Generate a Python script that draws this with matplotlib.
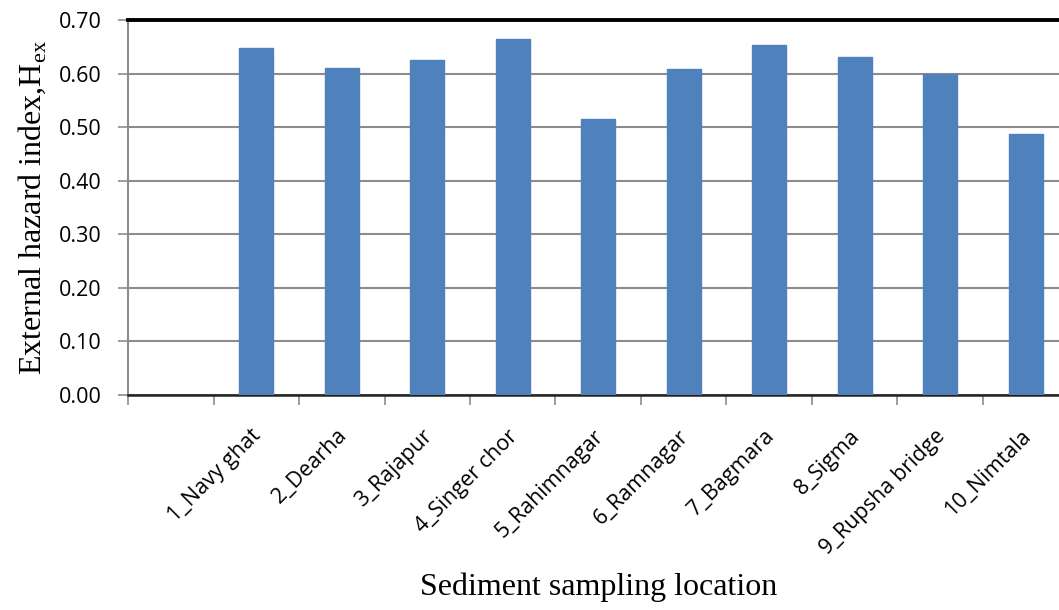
import numpy as np
import matplotlib
matplotlib.use("Agg")
import matplotlib.pyplot as plt
from matplotlib.transforms import ScaledTranslation

# sampling sites (first slot of the axis is left blank)
locations = ["", "1_Navy ghat", "2_Dearha", "3_Rajapur", "4_Singer chor", "5_Rahimnagar",
             "6_Ramnagar", "7_Bagmara", "8_Sigma", "9_Rupsha bridge", "10_Nimtala"]
h_ex = [np.nan, 0.648, 0.610, 0.625, 0.665, 0.515, 0.609, 0.653, 0.631, 0.599, 0.487]
y_ticks = [0.0, 0.1, 0.2, 0.3, 0.4, 0.5, 0.6, 0.7]

plt.rcParams["mathtext.fontset"] = "custom"
plt.rcParams["mathtext.rm"] = "Liberation Serif"

fig = plt.figure(figsize=(10.59, 6.10), dpi=100)
ax = fig.add_axes([0.1209, 0.3525, 0.888, 0.6148])

x = np.arange(len(locations))
ax.bar(x, h_ex, width=0.4, color="#4f81bd", edgecolor="#4f81bd", zorder=3)

ax.set_xlim(-0.5, len(locations) - 0.5)
ax.set_ylim(0, 0.70)
ax.set_yticks(y_ticks)
ax.set_yticklabels([f"{v:.2f}" for v in y_ticks], fontsize=15.5, family="Open Sans")
ax.yaxis.grid(True, color="#8c8c8c", linewidth=1.5, zorder=0)

# category labels at centres, tick marks at boundaries
ax.set_xticks(x)
ax.set_xticklabels(locations, rotation=45, ha="right", rotation_mode="anchor",
                   fontsize=15.5, family="Open Sans")
ax.tick_params(axis="x", which="major", length=0, pad=24)
ax.set_xticks(np.arange(len(locations)) - 0.5, minor=True)
ax.tick_params(axis="x", which="minor", length=7, width=1.2, color="#8c8c8c", direction="out")
ax.tick_params(axis="y", length=7, width=1.2, color="#8c8c8c", direction="out", pad=12)

for lbl in ax.get_xticklabels():
    lbl.set_transform(lbl.get_transform() + ScaledTranslation(-4 / 72, 2 / 72, fig.dpi_scale_trans))

ax.spines["top"].set_linewidth(2.8)
ax.spines["top"].set_color("black")
ax.spines["bottom"].set_linewidth(1.8)
ax.spines["bottom"].set_color("#222222")
ax.spines["left"].set_linewidth(1.5)
ax.spines["left"].set_color("#8c8c8c")
ax.spines["right"].set_visible(False)

ax.set_ylabel("External hazard index,H$_{\\rm ex}$", fontsize=23, family="Liberation Serif", labelpad=8)
ax.set_xlabel("Sediment sampling location", fontsize=23, family="Liberation Serif", labelpad=10)

fig.savefig("out.png", dpi=100)
